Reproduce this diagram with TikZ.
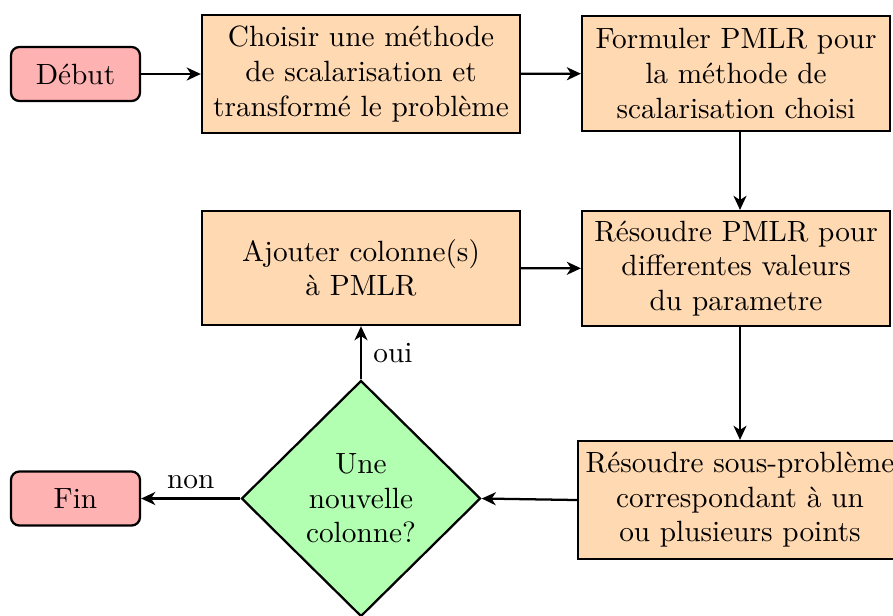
\documentclass[tikz,border=0pt]{standalone}
\usepackage{fontspec}
\usetikzlibrary{shapes.geometric,arrows.meta}
\begin{document}
\begin{tikzpicture}[x=0.3534pt,y=-0.3534pt,
  txt/.style={font=\fontsize{10.35}{12.2}\selectfont},
  procbox/.style={txt,draw=black,thick,fill=orange!30,rectangle,align=center,inner sep=0pt},
  termbox/.style={txt,draw=black,thick,fill=red!30,rectangle,rounded corners=3pt,align=center,inner sep=0pt,minimum width=45.6pt,minimum height=19.1pt},
  decbox/.style={txt,draw=black,thick,fill=green!30,diamond,align=center,inner sep=0pt,minimum width=84.5pt,minimum height=83.4pt},
  flow/.style={thick,-{Stealth[length=5pt,width=4.6pt,inset=1.5pt]}},
  lbl/.style={txt,inner sep=0pt}]
\useasboundingbox (0,0) rectangle (893,615);
\clip (0,0) rectangle (893,615);
\node[termbox] (debut) at (75.5,74) {Début};
\node[procbox,minimum width=112.4pt,minimum height=41.7pt] (choisir) at (361,74) {Choisir une méthode\\de scalarisation et\\transformé le problème};
\node[procbox,minimum width=108.8pt,minimum height=40.6pt] (formuler) at (736,73.5) {Formuler PMLR pour\\la méthode de\\scalarisation choisi};
\node[procbox,minimum width=108.8pt,minimum height=40.6pt] (resoudre) at (736,268.5) {Résoudre PMLR pour\\differentes valeurs\\du parametre};
\node[procbox,minimum width=112.4pt,minimum height=40.3pt] (ajouter) at (361,268) {Ajouter colonne(s)\\à PMLR};
\node[procbox,minimum width=114.5pt,minimum height=41.7pt] (sous) at (740,500) {Résoudre sous-problème\\correspondant à un\\ou plusieurs points};
\node[decbox] (dec) at (361,498.5) {Une\\nouvelle\\colonne?};
\node[termbox] (fin) at (75.5,498.5) {Fin};
\draw[flow] (debut) -- (choisir);
\draw[flow] (choisir) -- (formuler);
\draw[flow] (formuler.south -| 740,0) -- (resoudre.north -| 740,0);
\draw[flow] (ajouter) -- (resoudre);
\draw[flow] (resoudre.south -| 740,0) -- (sous.north);
\draw[flow] (sous.west) -- (dec.east);
\draw[flow] (dec.north) -- node[lbl,right=4pt] {oui} (ajouter.south);
\draw[flow] (dec.west) -- node[lbl,above=3pt] {non} (fin.east);
\end{tikzpicture}
\end{document}
